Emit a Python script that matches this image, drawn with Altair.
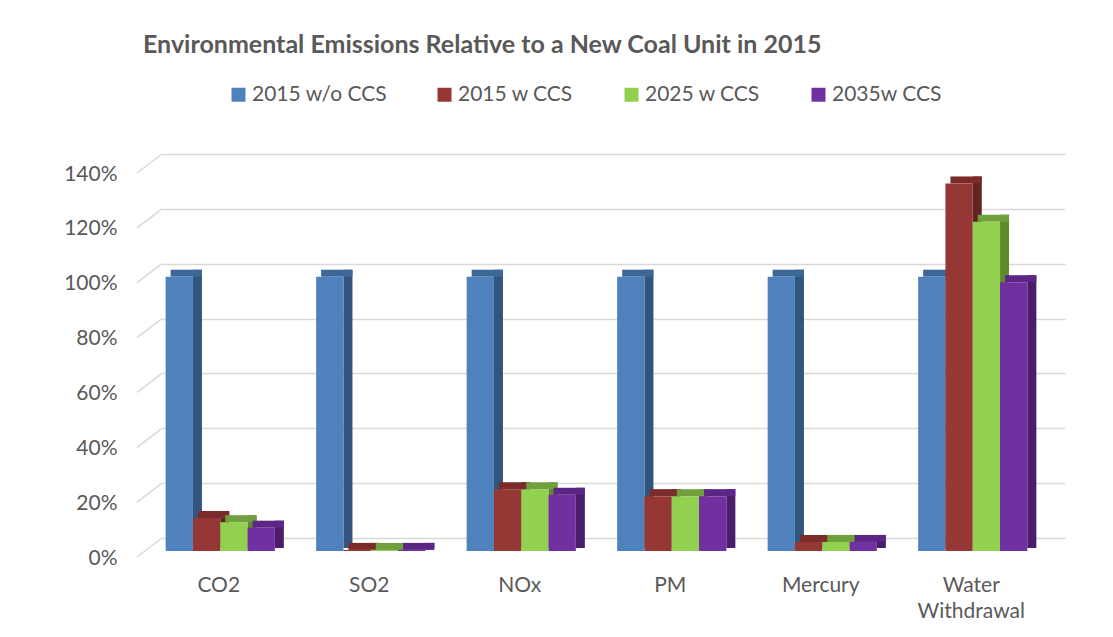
import json
import altair as alt
import pandas as pd

# ---- data ----
categories = ["CO2", "SO2", "NOx", "PM", "Mercury", "Water Withdrawal"]
series = ["2015 w/o CCS", "2015 w CCS", "2025 w CCS", "2035w CCS"]
v_2015_wo_ccs = [100, 100, 100, 100, 100, 100]
v_2015_w_ccs = [12, 0.4, 22.5, 20, 3.3, 134]
v_2025_w_ccs = [10.5, 0.4, 22.5, 20, 3.3, 120]
v_2035_w_ccs = [8.5, 0.4, 20.5, 20, 3.3, 98]
y_ticks = [0, 20, 40, 60, 80, 100, 120, 140]

# ---- styles ----
front_colors = ["#4F81BD", "#953735", "#92D050", "#7030A0"]
side_colors = ["#32557F", "#632322", "#5E8A2E", "#4A1D6B"]
top_colors = ["#3C6898", "#7A2B2A", "#709F3E", "#5B2685"]
TXT = "#595959"
FONT = "Lato"
GRID = "#d9d9d9"

rows = []
for si, (s, vals) in enumerate(zip(series, [v_2015_wo_ccs, v_2015_w_ccs, v_2025_w_ccs, v_2035_w_ccs])):
    for ci, (c, v) in enumerate(zip(categories, vals)):
        rows.append({"category": c, "ci": ci, "series": s, "si": si, "value": v})
df = pd.DataFrame(rows)
ticks_df = pd.DataFrame({"tick": y_ticks})

BW = 0.1814          # bar width in category units
FX, FY = -17, 13     # front plane shift relative to back wall (px)
DX, DY = 9, 7        # bar depth (px)

xs = alt.Scale(domain=[-0.5, 5.5], nice=False, zero=False)
ys = alt.Scale(domain=[0, 140], nice=False, zero=True)

cat_js = json.dumps(categories)
x_axis = alt.Axis(
    values=list(range(len(categories))),
    labelExpr=f"split({cat_js}[datum.value], ' ')",
    title=None, domain=False, ticks=False, grid=False,
    labelFont=FONT, labelFontSize=21, labelColor=TXT,
    labelPadding=36, labelOffset=-19, labelLineHeight=26,
    labelFlush=False, labelOverlap=False, labelBound=False,
)
y_axis = alt.Axis(
    values=y_ticks,
    labelExpr="datum.value + '%'",
    title=None, domain=False, ticks=False, grid=True,
    gridColor=GRID, gridWidth=1.5,
    labelFont=FONT, labelFontSize=21, labelColor=TXT,
    labelPadding=45, labelOffset=20,
)

base = alt.Chart(df).transform_calculate(
    x0=f"datum.ci + (datum.si - 2) * {BW}",
    x1=f"datum.ci + (datum.si - 1) * {BW}",
)

sides = base.mark_rect(xOffset=FX, x2Offset=FX + DX, yOffset=FY - DY, y2Offset=FY - 3).encode(
    x=alt.X("x1:Q", scale=xs, axis=x_axis),
    x2="x1:Q",
    y=alt.Y("value:Q", scale=ys, axis=y_axis),
    y2=alt.datum(0),
    color=alt.Color("series:N", scale=alt.Scale(domain=series, range=side_colors), legend=None),
)

tops = base.mark_rect(xOffset=FX + 5, x2Offset=FX + DX, yOffset=FY - DY, y2Offset=FY).encode(
    x=alt.X("x0:Q", scale=xs, axis=x_axis),
    x2="x1:Q",
    y=alt.Y("value:Q", scale=ys, axis=y_axis),
    y2="value:Q",
    color=alt.Color("series:N", scale=alt.Scale(domain=series, range=top_colors), legend=None),
)

fronts = base.mark_rect(xOffset=FX, x2Offset=FX, yOffset=FY, y2Offset=FY).encode(
    x=alt.X("x0:Q", scale=xs, axis=x_axis),
    x2="x1:Q",
    y=alt.Y("value:Q", scale=ys, axis=y_axis),
    y2=alt.datum(0),
    color=alt.Color(
        "series:N",
        scale=alt.Scale(domain=series, range=front_colors),
        legend=alt.Legend(
            orient="none", legendX=66, legendY=-70, direction="horizontal",
            title=None, symbolType="square", symbolSize=196, symbolStrokeWidth=0,
            symbolOpacity=1, labelFont=FONT, labelFontSize=21, labelColor=TXT,
            columnPadding=47, labelOffset=3,
        ),
    ),
)

diag = alt.Chart(ticks_df).transform_calculate(xl="-0.5").mark_rule(
    color=GRID, strokeWidth=1.5, xOffset=-25, yOffset=19, x2Offset=0, y2Offset=0
).encode(
    x=alt.X("xl:Q", scale=xs, axis=x_axis),
    x2="xl:Q",
    y=alt.Y("tick:Q", scale=ys, axis=y_axis),
    y2="tick:Q",
)

chart = alt.layer(diag, sides, tops, fronts).resolve_scale(color="independent").properties(
    width=903,
    height=384,
    padding={"left": 154, "top": 146, "right": 40, "bottom": 90},
    autosize=alt.AutoSizeParams(type="none"),
    title=alt.TitleParams(
        "Environmental Emissions Relative to a New Coal Unit in 2015",
        anchor="start", frame="group", dx=-19, offset=26,
        font=FONT, fontSize=25, fontWeight="bold", color=TXT,
    ),
).configure(background="white").configure_view(strokeWidth=0)

chart.save("out.html", embed_options={"renderer": "svg", "actions": False})
